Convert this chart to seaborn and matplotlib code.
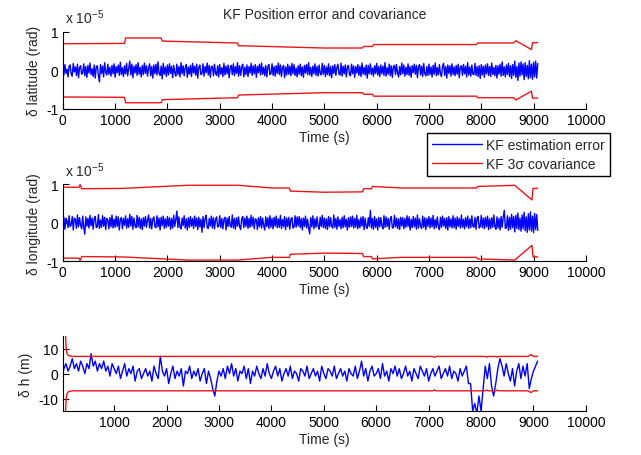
import numpy as np
import matplotlib
matplotlib.use("Agg")
import matplotlib.pyplot as plt
import seaborn as sns

# sample times of the position error (s)
t_pos = np.arange(0, 9081, 20)
t_h = np.arange(0, 9081, 40)

# latitude error, units of 1e-7 rad
lat_err = [6, -12, 15, -8, 3, -17, 11, 14, -9, -15, 18, -4, 9, -13, 16, -19, 7, 12, -10, -6, 17, -14, 10, -18, 13,
           -7, 19, -11, 4, -16, 14, -20, 9, 12, -13, -30, 15, -8, 11, -17, 20, -5, -12, 16, -10, 8, -15, 13, -9, 17,
           -18, 10, -6, 14, -13, 21, -11, 7, -16, 12, -9, 18, -14, 5, 24, -12, 16, -19, 11, -7, 15, -13, 20, -10, 8,
           -17, 13, -11, 19, -8, 12, -15, 6, 17, -14, 10, -20, 14, -9, 16, -12, 22, -7, -13, 11, -22, 18, -10, 9, -16,
           14, -12, 17, -8, 11, -19, 13, -6, -15, 16, -11, 10, -17, 20, -9, 12, -14, 7, 15, -18, 9, -10, 13, -16, 18,
           -7, 11, -13, 16, -20, 8, 14, -11, -9, 17, -15, 10, -6, 19, -12, 13, -18, 9, 11, -14, 16, -8, -13, 12, -17,
           15, -10, 7, -16, 18, -12, 11, -9, 14, -19, 6, 13, -11, 17, -14, 10, -8, 20, -15, 12, -13, 9, 16, -17, 8,
           -11, 14, -16, 10, -7, 18, -13, 12, -9, 15, -18, 11, -6, 16, -12, 19, -10, 8, -14, 13, -17, 9, 15, -11, -8,
           17, -13, 10, -15, 12, -8, 19, -11, 14, -16, 7, 13, -19, 9, -12, 16, -10, 11, -14, 18, -9, 15, -13, 6, -17,
           12, -10, 16, -14, 9, -18, 13, -7, 15, -11, 20, -12, 8, -16, 11, -9, 17, -13, 10, -15, 14, -8, -12, 18, -10,
           13, -16, 9, -11, 17, -14, 10, -19, 12, -8, 15, -13, 7, 16, -10, -12, 19, -15, 11, -9, 14, -17, 8, 13, -11,
           -14, 16, -9, 12, -18, 10, -7, 15, -13, 11, -16, 19, -10, 8, -12, 14, -20, 13, -9, 17, -11, 6, -15, 12, -8,
           18, -12, 10, -16, 14, -9, 11, -13, 20, -15, 7, -10, 16, -14, 12, -18, 9, 13, -11, 15, -7, -17, 10, -12, 19,
           -9, 14, -15, 8, -11, 17, -13, 10, -18, 12, -6, 16, -10, 13, -19, 9, 15, -12, 11, -16, 18, -8, -14, 10, -13,
           16, -11, 9, -17, 13, -10, 19, -14, 7, -12, 15, -9, -16, 11, 18, -13, 10, -20, 14, -8, 12, -15, 17, -11, 9,
           -14, 13, -10, 16, -19, 8, 12, -13, 15, -9, 11, -17, 20, -12, 9, -15, 14, -10, -11, 18, -13, 10, -16, 12, -21,
           15, -12, 11, -18, 14, -9, 17, -13, 10, -16, 19, -11, 8, -14, 13, -20, 12, -10, 16, -15, 22, -13, 9, -17, 14,
           -11, 18, -16, 12, -21, 15, -13, 24, -18, 10, -26, 19, -15, 22, -12, 17, -24, 20, -16, 13, -22, 25, -19, 16, -23,
           21, -17, 24, -20, 18]

# longitude error, units of 1e-7 rad
lon_err = [-9, 14, -17, 11, 5, -13, 18, -10, -6, 16, -19, 12, 8, -15, 20, -11, 13, -7, -16, 17, -12, -30, 15, -9, 11,
           -14, 19, -8, 12, -17, 10, 16, -13, -10, 21, -15, 7, -12, 18, -9, 14, -18, 11, 6, -16, 13, -11, 20, -14, 9,
           -12, 17, -10, 15, -19, 8, 13, -16, 11, -7, 18, -14, 10, -12, 22, -9, 16, -17, 12, -8, -13, 19, -11, 14, -15,
           10, -18, 13, -9, 16, -12, 7, 20, -14, 11, -16, 9, 15, -10, -13, 18, -11, 12, -19, 14, -8, 17, -15, 10, -12,
           16, -9, 13, -17, 11, -14, 19, -10, 8, 30, -13, 15, -11, -16, 12, -8, 18, -14, 10, -19, 13, -12, 16, -9, 11,
           -15, 17, -10, 12, -18, 14, -11, 9, -25, 16, -13, 10, 19, -12, -15, 11, -9, 17, -14, 13, -16, 8, 15, -11, -10,
           18, -13, 11, -16, 9, 14, -19, 12, -10, 16, -8, -12, 20, -14, 11, -17, 13, -9, 15, -11, -18, 10, 16, -13, 12,
           -10, 17, -15, 11, -12, 19, -9, 14, -16, 10, 8, -18, 13, -11, 16, -14, 12, -7, -19, 15, -10, 13, -15, 18, -12,
           11, -16, 14, -9, 17, -13, 10, -12, 19, -15, 8, -11, 16, -18, 12, -10, 14, -17, 9, 13, -14, -11, 18, -12, 15,
           -9, 16, -13, 11, -19, 12, -10, 17, -14, 9, -15, -29, 13, -11, 18, -16, 10, -12, 15, -8, -17, 14, -10, 19, -13,
           12, -15, 10, -18, 16, -11, 13, -9, -14, 20, -12, 11, -17, 15, -10, 8, -16, 14, -13, 18, -11, 9, -19, 13, -12,
           15, -10, 17, -14, 11, -12, 19, -16, 8, -13, 14, -9, 16, -18, 12, -11, -15, 13, -10, 32, -14, 11, -17, 16, -12,
           10, -19, 14, -11, 13, -8, -16, 18, -12, 15, -10, 11, -17, 9, 16, -14, -13, 19, -11, 12, -15, 10, -18, 14, -9,
           13, -16, 11, -12, 18, -10, 15, -19, 9, -13, 16, -11, 12, -17, 20, -14, 10, -9, -15, 17, -12, 13, -18, 11, -10,
           16, -14, 12, -11, 19, -16, 8, -13, 15, -10, -18, 14, -12, 17, -9, 11, -15, 13, -19, 16, -11, 10, -14, 18, -13,
           12, -17, 15, -10, 11, -14, 20, -12, 9, -16, 13, -11, 17, -15, 10, -13, 18, -9, -12, 14, -17, 11, 16, -14, -10,
           19, -13, 12, -16, 14, -11, 17, -18, 10, -15, 13, -12, 20, -10, -17, 15, -14, 11, -19, 16, -12, 14, 32, -15, -13,
           18, -20, 14, -17, 22, -13, 16, -24, 19, -15, 25, -18, 12, -22, 20, -16, 27, -21, 15, -25, 23, -19, 28, -22, 17,
           -26, 24, -18, 21, -20]

# height error (m)
h_err = [-3, 2, 4, 1, 3, 6, 2, 4, 1, 5, 3, 0, 4, 2, 8, 3, 5, 1, 4, 2,
         5, 1, 3, -1, 4, 2, 0, 3, -2, 1, 4, -1, 2, 0, 3, -3, 1, 2, -2, 0,
         2, -1, 1, -3, 3, 0, -2, 7, 1, -1, 2, -4, 0, 3, -2, 1, -1, 2, -5, 1,
         0, 3, -2, 1, -1, 2, -3, 0, 2, -4, 1, -2, -6, -9, -3, 1, -1, 2, -2, 3,
         0, 4, -1, 2, -3, 1, 0, 3, -2, 2, -4, 1, -1, 3, 0, -2, 2, -1, 4, 0,
         -2, 1, 3, -1, 2, -3, 0, 2, -1, 3, -2, 1, 0, -3, 2, 1, -1, 3, -2, 0,
         2, -1, 1, -3, 3, 0, -2, 2, 1, -1, 3, -2, 0, 2, -1, 1, -3, 2, 0, -1,
         3, -2, 1, 5, -1, 2, -3, 1, 3, -1, 0, 2, -2, 4, -1, 1, -3, 2, 0, 3,
         -1, 2, -2, 0, 3, -1, 1, -3, 2, 0, -2, 3, 1, -1, 2, -3, 0, 2, -1, 1,
         3, -2, 0, 2, -1, 3, -2, 1, 0, -3, 2, -1, 1, 3, -4, -4, -15, -12, -16, -9,
         -15, -6, 3, -2, 4, -5, -9, -4, 2, 6, 3, -1, 4, 0, -3, 2, -5, 1, 4, -2,
         3, -1, 4, -6, -2, 1, 3, 5]

# 3-sigma bounds (latitude / longitude in units of 1e-5 rad, height in m)
lat_cov_t = [0, 1180, 1200, 1880, 1900, 3340, 3360, 5000, 5730, 5750, 5920, 5940,
             7910, 7930, 8620, 8660, 8960, 8980, 9080]
lat_cov = [0.69, 0.70, 0.84, 0.84, 0.76, 0.71, 0.64, 0.58, 0.58, 0.62, 0.62, 0.67,
           0.67, 0.71, 0.71, 0.77, 0.54, 0.72, 0.72]

lon_cov_t = [0, 310, 330, 360, 1150, 2390, 3350, 4000, 4330, 4350, 5000, 5730, 5750,
             5900, 5920, 6480, 7910, 7930, 8640, 8970, 8990, 9080]
lon_cov = [0.92, 0.92, 0.99, 0.88, 0.89, 0.97, 0.97, 0.90, 0.90, 0.82, 0.79, 0.80, 0.88,
           0.88, 0.94, 0.90, 0.90, 0.94, 0.97, 0.59, 0.89, 0.89]

h_cov_t = [60, 70, 85, 100, 130, 200, 7080, 7110, 7140, 8080, 8110, 8140,
           8280, 8310, 8340, 8900, 8950, 9000, 9080]
h_cov = [60, 16, 10, 8, 7.2, 6.9, 6.9, 6.5, 6.9, 6.9, 6.6, 6.9,
         6.9, 6.6, 6.9, 6.9, 7.6, 6.9, 6.9]

sns.set_style("ticks")
plt.rcParams['font.family'] = ['Liberation Sans', 'DejaVu Sans']
plt.rcParams['font.size'] = 10
plt.rcParams['axes.unicode_minus'] = False
plt.rcParams['xtick.direction'] = 'in'
plt.rcParams['ytick.direction'] = 'in'

fig = plt.figure(figsize=(6.41, 4.56), dpi=100)
ax1 = fig.add_axes([0.098, 0.759, 0.816, 0.169])
ax2 = fig.add_axes([0.098, 0.425, 0.816, 0.169])
ax3 = fig.add_axes([0.098, 0.0965, 0.816, 0.164])

blue = '#0000ff'
red = '#e8171a'

panels = [
    (ax1, t_pos, np.array(lat_err) / 100, lat_cov_t, np.array(lat_cov), 'δ latitude (rad)'),
    (ax2, t_pos, np.array(lon_err) / 100, lon_cov_t, np.array(lon_cov), 'δ longitude (rad)'),
    (ax3, t_h, np.array(h_err, dtype=float), h_cov_t, np.array(h_cov), 'δ h (m)'),
]

for ax, t, err, ct, cv, ylab in panels:
    sns.lineplot(x=t, y=err, ax=ax, color=blue, lw=1.0, estimator=None, sort=False,
                 label='KF estimation error')
    sns.lineplot(x=ct, y=cv, ax=ax, color=red, lw=1.0, estimator=None, sort=False,
                 label='KF 3σ covariance')
    sns.lineplot(x=ct, y=-cv, ax=ax, color=red, lw=1.0, estimator=None, sort=False)
    ax.get_legend().remove()
    ax.set_xlabel('Time (s)', labelpad=2)
    ax.set_ylabel(ylab, labelpad=4)
    ax.tick_params(length=4, width=0.8, pad=3, colors='black')
    for s in ['left', 'bottom']:
        ax.spines[s].set_linewidth(0.8)
        ax.spines[s].set_color('black')
    sns.despine(ax=ax)

for ax in (ax1, ax2):
    ax.set_xlim(0, 10000)
    ax.set_xticks(range(0, 10001, 1000))
    ax.set_ylim(-1, 1)
    ax.set_yticks([-1, 0, 1])
    ax.set_yticklabels(['-1', '0', '1'])
    ax.text(0.005, 1.07, r'x 10$^{\mathregular{-5}}$', transform=ax.transAxes,
            ha='left', va='bottom')

ax3.set_xlim(20, 10000)
ax3.set_xticks(range(1000, 10001, 1000))
ax3.set_ylim(-15, 15)
ax3.set_yticks([-10, 0, 10])
ax3.set_yticklabels(['-10', '0', '10'])

ax1.set_title('KF Position error and covariance', fontsize=10, pad=10)

handles, labels = ax1.get_legend_handles_labels()
fig.legend(handles[:2], labels[:2], loc='upper left',
           bbox_to_anchor=(427 / 641, 1 - 134 / 456), borderaxespad=0,
           fancybox=False, edgecolor='black', framealpha=1, handlelength=3.6,
           handletextpad=0.3, borderpad=0.35, labelspacing=0.35)

fig.savefig('out.png', dpi=100, facecolor='white')
